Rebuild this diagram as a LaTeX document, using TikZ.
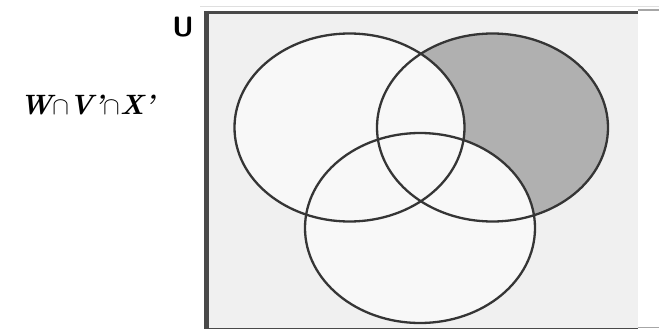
\documentclass[tikz,border=0pt]{standalone}
\usepackage{tikz}
\definecolor{bg}{HTML}{F0F0F0}
\definecolor{inner}{HTML}{F8F8F8}
\definecolor{shadegray}{HTML}{B0B0B0}
\definecolor{edge}{HTML}{353535}
\tikzset{
  setline/.style={draw=edge, line width=2.3pt},
  framebar/.style={draw=edge!90, line cap=butt},
  lbl/.style={inner sep=0pt, anchor=center}
}
\newcommand{\exprtext}{\fontsize{28}{32}\selectfont\bfseries\itshape W$\cap$V'$\cap$X'}
\begin{document}
\begin{tikzpicture}[x=1pt,y=-1pt]
\useasboundingbox (0,0) rectangle (659,329);
% universe box
\fill[bg] (206,12) rectangle (638,329);
\draw[gray!25, line width=1pt] (200,6.5) -- (659,6.5);
\draw[gray!70, line width=2pt] (638,10.5) -- (659,10.5);
\draw[gray!70, line width=1pt] (638,327.5) -- (659,327.5);
\draw[framebar, line width=3.2pt] (204,12.8) -- (638,12.8);
\draw[framebar, line width=4.5pt] (206.3,11) -- (206.3,329);
\draw[framebar, line width=1.2pt] (206,328.6) -- (638,328.6);
% set interiors
\fill[inner] (349.5,127.5) ellipse [x radius=115, y radius=94];
\fill[inner] (492.5,127.5) ellipse [x radius=115.5, y radius=94];
\fill[inner] (420,228) ellipse [x radius=115, y radius=95];
% shaded region: right set only
\begin{scope}
  \clip (492.5,127.5) ellipse [x radius=115.5, y radius=94];
  \fill[shadegray] (492.5,127.5) ellipse [x radius=115.5, y radius=94];
  \fill[inner] (349.5,127.5) ellipse [x radius=115, y radius=94];
  \fill[inner] (420,228) ellipse [x radius=115, y radius=95];
\end{scope}
% outlines
\draw[setline] (349.5,127.5) ellipse [x radius=115, y radius=94];
\draw[setline] (492.5,127.5) ellipse [x radius=115.5, y radius=94];
\draw[setline] (420,228) ellipse [x radius=115, y radius=95];
% labels
\node[lbl] (u) at (183,27) {\sffamily\bfseries\fontsize{28}{32}\selectfont U};
\node[lbl] (expr) at (87,105) {\exprtext};
\end{tikzpicture}
\end{document}
